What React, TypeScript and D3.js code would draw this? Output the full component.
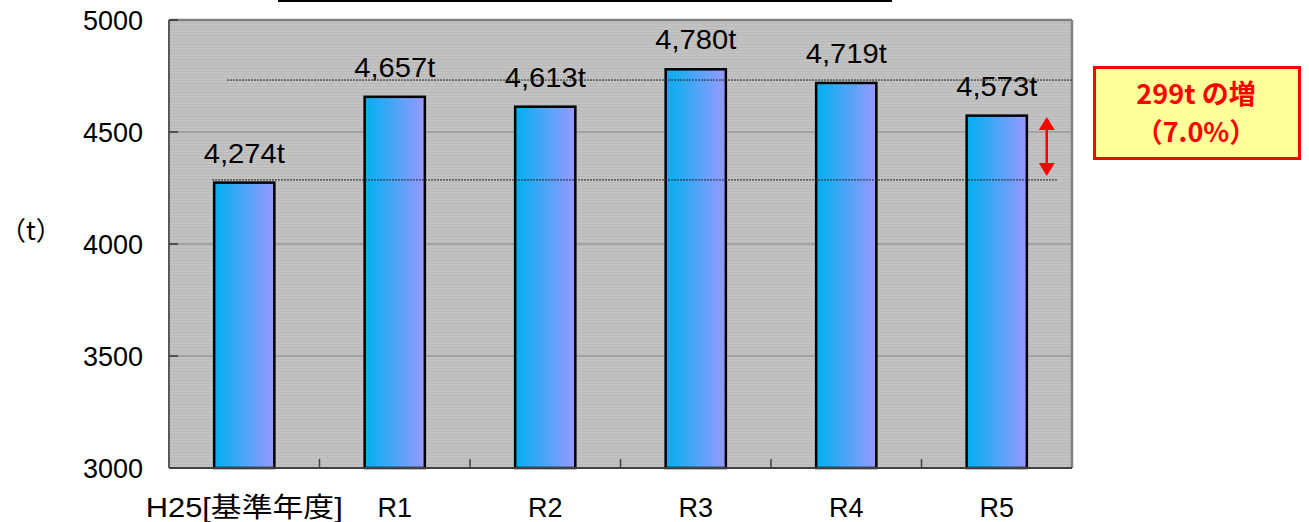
import React from "react";
import * as d3 from "d3";

const categories = ["H25[基準年度]", "R1", "R2", "R3", "R4", "R5"];
const values = [4274, 4657, 4613, 4780, 4719, 4573];
const valueLabels = ["4,274t", "4,657t", "4,613t", "4,780t", "4,719t", "4,573t"];
const yTicks = [3000, 3500, 4000, 4500, 5000];
const gridValues = [3500, 4000, 4500];
const refLineValues = [4732, 4286];
const arrowValues = [4567, 4304];
const noteLines = ["299t の増", "（7.0%）"];
const unitLabel = "（t）";

const W = 1309;
const H = 522;
const plot = { left: 169, right: 1072, top: 20, bottom: 468 };

export default function App() {
  const y = d3.scaleLinear().domain([3000, 5000]).range([plot.bottom, plot.top]);
  const x = d3.scaleBand<string>().domain(categories).range([plot.left, plot.right]).padding(0);
  const bw = x.bandwidth();
  const barW = bw * 0.4;
  const sans = "'Liberation Sans', Arial, 'Noto Sans CJK JP', sans-serif";
  const jp = "'Noto Sans CJK JP', sans-serif";
  const lastX = (x(categories[categories.length - 1]) as number) + bw / 2;
  const arrowX = lastX + 50;
  const arrowTop = y(arrowValues[0]);
  const arrowBot = y(arrowValues[1]);

  return (
    <svg width={W} height={H} style={{ position: "absolute", left: 0, top: 0, display: "block" }}>
      <defs>
        <linearGradient id="barGrad" x1="0" x2="1" y1="0" y2="0">
          <stop offset="0%" stopColor="#00b0f0" />
          <stop offset="100%" stopColor="#9999ff" />
        </linearGradient>
        <pattern id="stripes" width="4" height="3" patternUnits="userSpaceOnUse">
          <rect width="4" height="3" fill="#c2c2c2" />
          <rect y="2" width="4" height="1" fill="#b9b9b9" />
        </pattern>
      </defs>
      <rect width={W} height={H} fill="#ffffff" />
      {/* top line */}
      <line x1={278} x2={892} y1={1} y2={1} stroke="#000" strokeWidth={2} />
      {/* plot background */}
      <rect x={plot.left} y={plot.top} width={plot.right - plot.left} height={plot.bottom - plot.top} fill="url(#stripes)" />
      {gridValues.map((v) => (
        <line key={v} x1={plot.left} x2={plot.right} y1={y(v)} y2={y(v)} stroke="#858585" strokeWidth={1} />
      ))}
      {/* borders */}
      <line x1={plot.left} x2={plot.right} y1={plot.top} y2={plot.top} stroke="#808080" strokeWidth={2.5} />
      <line x1={plot.right} x2={plot.right} y1={plot.top} y2={plot.bottom} stroke="#808080" strokeWidth={2.5} />
      <line x1={plot.left} x2={plot.left} y1={plot.top} y2={plot.bottom} stroke="#5a5a5a" strokeWidth={2} />
      {/* y ticks */}
      {yTicks.map((v) => (
        <g key={v}>
          <line x1={plot.left} x2={plot.left + 9} y1={y(v)} y2={y(v)} stroke="#333" strokeWidth={1.5} />
          <text x={143} y={y(v) + 10} textAnchor="end" fontFamily={sans} fontSize={27} fill="#000">
            {v}
          </text>
        </g>
      ))}
      {/* bars */}
      {categories.map((c, i) => {
        const cx = (x(c) as number) + bw / 2;
        return (
          <g key={c}>
            <rect x={cx - barW / 2} y={y(values[i])} width={barW} height={plot.bottom - y(values[i])} fill="url(#barGrad)" stroke="#000" strokeWidth={2.5} />
            <text x={cx} y={y(values[i]) - 20} textAnchor="middle" fontFamily={sans} fontSize={28} fill="#000" textLength={81} lengthAdjust="spacingAndGlyphs">
              {valueLabels[i]}
            </text>
          </g>
        );
      })}
      {/* bottom axis */}
      <line x1={plot.left} x2={plot.right} y1={plot.bottom} y2={plot.bottom} stroke="#404040" strokeWidth={2} />
      {categories.map((c, i) =>
        i === 0 ? null : (
          <line key={c} x1={x(c) as number} x2={x(c) as number} y1={plot.bottom - 9} y2={plot.bottom} stroke="#404040" strokeWidth={1.5} />
        )
      )}
      {categories.map((c, i) => (
        <text
          key={c}
          x={(x(c) as number) + bw / 2}
          y={517}
          textAnchor="middle"
          fontFamily={sans}
          fontSize={27}
          fill="#000"
          {...(i === 0 ? { textLength: 197, lengthAdjust: "spacingAndGlyphs" } : {})}
        >
          {c}
        </text>
      ))}
      {/* reference dashed lines */}
      <line x1={227} x2={plot.right} y1={y(refLineValues[0])} y2={y(refLineValues[0])} stroke="#222" strokeWidth={1} strokeDasharray="2 1" />
      <line x1={212} x2={1057} y1={y(refLineValues[1])} y2={y(refLineValues[1])} stroke="#222" strokeWidth={1} strokeDasharray="2 1" />
      {/* arrow */}
      <line x1={arrowX} x2={arrowX} y1={arrowTop + 10} y2={arrowBot - 10} stroke="#ff0000" strokeWidth={2.5} />
      <path d={`M${arrowX},${arrowTop} L${arrowX - 8},${arrowTop + 13} L${arrowX + 8},${arrowTop + 13} Z`} fill="#ff0000" />
      <path d={`M${arrowX},${arrowBot} L${arrowX - 8},${arrowBot - 13} L${arrowX + 8},${arrowBot - 13} Z`} fill="#ff0000" />
      {/* note box */}
      <rect x={1094.5} y={67.5} width={205} height={91} fill="#ffff99" stroke="#ff0000" strokeWidth={3} />
      <text x={1196} y={104} textAnchor="middle" fontFamily={jp} fontWeight="bold" fontSize={27} fill="#ff0000">
        {noteLines[0]}
      </text>
      <text x={1196} y={142} textAnchor="middle" fontFamily={jp} fontWeight="bold" fontSize={27} fill="#ff0000">
        {noteLines[1]}
      </text>
      {/* unit label */}
      <text x={0} y={240} textAnchor="start" fontFamily={jp} fontSize={26} fill="#000">
        {unitLabel}
      </text>
    </svg>
  );
}
